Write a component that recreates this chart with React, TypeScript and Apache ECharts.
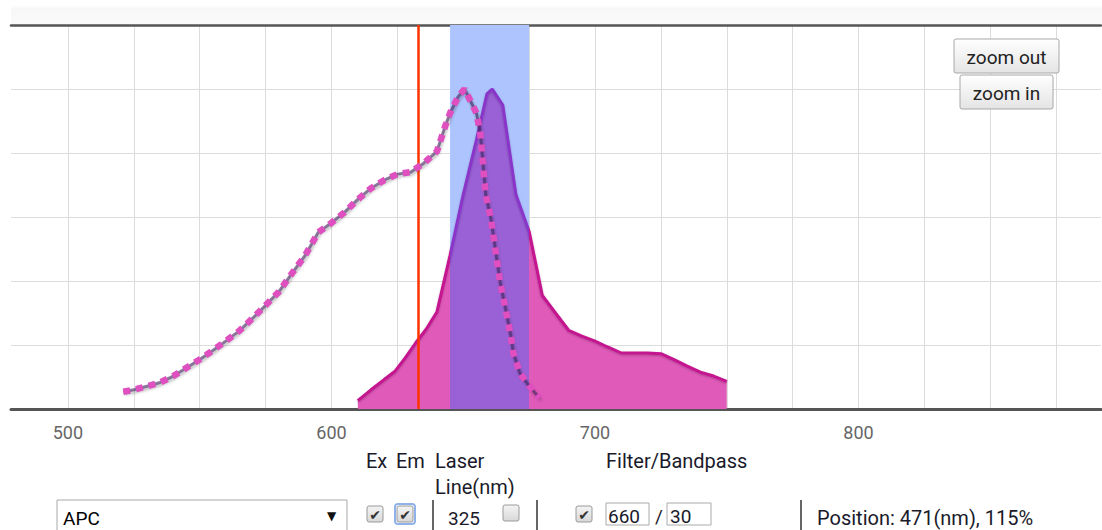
import React, { useEffect, useRef } from "react";
import * as echarts from "echarts";

// ---- data (nm, relative %) ----
const excitation: [number, number][] = [
  [521, 5.4], [525, 6.0], [530, 7.1], [535, 8.3], [540, 10.3], [545, 12.9],
  [550, 15.5], [555, 18.3], [560, 21.3], [565, 24.4], [570, 28.3], [575, 32.4],
  [580, 36.6], [585, 42.4], [590, 48.0], [595, 55.2], [600, 58.2], [605, 61.5],
  [610, 65.5], [615, 69.0], [620, 71.5], [625, 73.4], [630, 74.0], [635, 76.8],
  [640, 80.5], [643, 88.0], [645, 92.5], [648, 97.5], [650.5, 100], [655, 92.5],
  [656.5, 86.0], [658.5, 67.0], [660.5, 59.5], [662.5, 48.0], [664, 39.5],
  [666, 31.5], [668, 23.0], [669, 17.5], [671.5, 11.2], [675, 7.2], [679, 3.4],
];

const emission: [number, number][] = [
  [610, 2.6], [615, 6.0], [620, 9.2], [624, 11.7], [628, 16.0], [632, 20.7],
  [636, 25.0], [640, 30.3], [645, 48.0], [650, 67.0], [655, 84.0], [659, 98.5],
  [661, 100], [665, 95.0], [670, 67.0], [675, 55.5], [680, 35.5], [685, 30.0],
  [690, 24.6], [695, 22.8], [700, 21.2], [705, 19.3], [710, 17.5], [715, 17.5],
  [720, 17.5], [725, 17.3], [730, 15.4], [735, 13.4], [740, 11.5], [745, 10.3],
  [750, 8.6],
];

const laserLine = 633;
const filterCenter = 660;
const filterWidth = 30;

const xTickLabels = [500, 600, 700, 800];
const xGridTicks = [500, 525, 550, 575, 600, 625, 650, 675, 700, 725, 750, 775, 800, 825, 850, 875];
const xMin = 478.4;
const xMax = 892;
const yMin = 0;
const yMax = 120;
const yStep = 20;

const FONT = "Roboto, 'Liberation Sans', Arial, sans-serif";

const pink = "#e05ab9";
const purple = "#9a60d6";
const pinkStroke = "#c4128f";
const purpleStroke = "#8a35c9";

function txt(text: string, x: number, y: number, extra: any = {}) {
  return {
    type: "text",
    x,
    y,
    silent: true,
    z: 100,
    style: {
      text,
      fill: "#1a1a2a",
      fontSize: 20,
      fontFamily: FONT,
      verticalAlign: "middle",
      align: "left",
      ...extra,
    },
  };
}

function checkbox(x: number, y: number, checked: boolean, focus = false) {
  const items: any[] = [];
  if (focus) {
    items.push({
      type: "rect",
      shape: { x: x - 2, y: y - 2, width: 20, height: 20, r: 3 },
      style: { fill: "none", stroke: "#8fb2ea", lineWidth: 2 },
      z: 100,
      silent: true,
    });
  }
  items.push({
    type: "rect",
    shape: { x, y, width: 16, height: 16, r: 2 },
    style: {
      fill: new echarts.graphic.LinearGradient(0, 0, 0, 1, [
        { offset: 0, color: "#f4f4f4" },
        { offset: 1, color: "#d8d8d8" },
      ]),
      stroke: "#9a9a9a",
      lineWidth: 1,
    },
    z: 100,
    silent: true,
  });
  if (checked) {
    items.push({
      type: "text",
      x: x + 8,
      y: y + 8.5,
      z: 101,
      silent: true,
      style: {
        text: "✔",
        fill: "#333",
        fontSize: 14,
        fontFamily: "'DejaVu Sans', sans-serif",
        align: "center",
        verticalAlign: "middle",
      },
    });
  }
  return items;
}

function button(label: string, x: number, y: number, w: number, h: number) {
  return [
    {
      type: "rect",
      shape: { x, y, width: w, height: h, r: 2 },
      style: {
        fill: new echarts.graphic.LinearGradient(0, 0, 0, 1, [
          { offset: 0, color: "#ffffff" },
          { offset: 1, color: "#e4e4e4" },
        ]),
        stroke: "#a8a8a8",
        lineWidth: 1,
      },
      z: 100,
      silent: true,
    },
    {
      type: "text",
      x: x + w / 2,
      y: y + h / 2 + 1,
      z: 101,
      silent: true,
      style: {
        text: label,
        fill: "#222",
        fontSize: 19,
        fontFamily: FONT,
        align: "center",
        verticalAlign: "middle",
      },
    },
  ];
}

export default function App() {
  const ref = useRef<HTMLDivElement>(null);

  useEffect(() => {
    if (!ref.current) return;
    const chart = echarts.init(ref.current, undefined, { renderer: "svg" });

    const bandStart = filterCenter - filterWidth / 2;
    const bandEnd = filterCenter + filterWidth / 2;

    const graphic: any[] = [
      {
        type: "rect",
        shape: { x: 11, y: 5, width: 1091, height: 19 },
        style: {
          fill: new echarts.graphic.LinearGradient(0, 0, 0, 1, [
            { offset: 0, color: "#ffffff" },
            { offset: 0.2, color: "#f7f7f7" },
            { offset: 1, color: "#fafafa" },
          ]),
        },
        z: -1,
        silent: true,
      },
      ...button("zoom out", 954, 39, 105, 34),
      ...button("zoom in", 960, 75, 93, 34),
      txt("Ex", 366, 461),
      txt("Em", 396, 461),
      txt("Laser", 435, 461),
      txt("Line(nm)", 435, 487),
      txt("Filter/Bandpass", 606, 461),
      {
        type: "rect",
        shape: { x: 57, y: 500, width: 290, height: 40 },
        style: { fill: "#fff", stroke: "#a9a9a9", lineWidth: 1 },
        z: 100,
        silent: true,
      },
      txt("APC", 63, 518, { fill: "#000", fontSize: 19 }),
      txt("▼", 327, 516, { fill: "#111", fontSize: 12, fontFamily: "'DejaVu Sans', sans-serif" }),
      ...checkbox(367, 506, true),
      ...checkbox(397, 506, true, true),
      { type: "line", shape: { x1: 433, y1: 500, x2: 433, y2: 530 }, style: { stroke: "#333", lineWidth: 1.5 }, z: 100, silent: true },
      txt("325", 448, 518, { fontSize: 19 }),
      ...checkbox(503, 505, false),
      { type: "line", shape: { x1: 537, y1: 500, x2: 537, y2: 530 }, style: { stroke: "#333", lineWidth: 1.5 }, z: 100, silent: true },
      ...checkbox(576, 506, true),
      {
        type: "rect",
        shape: { x: 606, y: 503, width: 43, height: 22 },
        style: { fill: "#fff", stroke: "#aaa", lineWidth: 1 },
        z: 100,
        silent: true,
      },
      txt("660", 608, 516, { fontSize: 19 }),
      txt("/", 655, 516, { fontSize: 19 }),
      {
        type: "rect",
        shape: { x: 667, y: 503, width: 44, height: 22 },
        style: { fill: "#fff", stroke: "#aaa", lineWidth: 1 },
        z: 100,
        silent: true,
      },
      txt("30", 670, 516, { fontSize: 19 }),
      { type: "line", shape: { x1: 801, y1: 500, x2: 801, y2: 530 }, style: { stroke: "#333", lineWidth: 1.5 }, z: 100, silent: true },
      txt("Position: 471(nm), 115%", 817, 518),
    ];

    chart.setOption({
      animation: false,
      backgroundColor: "#ffffff",
      grid: { left: 11, right: 1, top: 25, bottom: 121, containLabel: false },
      xAxis: [
        {
          type: "value",
          position: "bottom",
          min: xMin,
          max: xMax,
          axisLine: { show: true, onZero: false, lineStyle: { color: "#555", width: 3 } },
          axisTick: { show: false, customValues: xGridTicks },
          axisLabel: {
            customValues: xTickLabels,
            color: "#666",
            fontSize: 18,
            fontFamily: FONT,
            margin: 14,
          },
          splitLine: { show: true, lineStyle: { color: "#dcdcdc", width: 1 } },
        },
        {
          type: "value",
          position: "top",
          min: xMin,
          max: xMax,
          axisLine: { show: true, onZero: false, lineStyle: { color: "#555", width: 2.5 } },
          axisTick: { show: false },
          axisLabel: { show: false },
          splitLine: { show: false },
        },
      ],
      yAxis: {
        type: "value",
        min: yMin,
        max: yMax,
        interval: yStep,
        axisLine: { show: false },
        axisTick: { show: false },
        axisLabel: { show: false },
        splitLine: { show: true, lineStyle: { color: "#dcdcdc", width: 1 } },
      },
      visualMap: [
        {
          type: "piecewise",
          show: false,
          seriesIndex: 1,
          dimension: 0,
          pieces: [
            { lt: bandStart, color: pink },
            { gte: bandStart, lte: bandEnd, color: purple },
            { gt: bandEnd, color: pink },
          ],
        },
        {
          type: "piecewise",
          show: false,
          seriesIndex: 2,
          dimension: 0,
          pieces: [
            { lt: bandStart, color: pinkStroke },
            { gte: bandStart, lte: bandEnd, color: purpleStroke },
            { gt: bandEnd, color: pinkStroke },
          ],
        },
      ],
      series: [
        {
          name: "filter",
          type: "line",
          data: [],
          z: 1,
          silent: true,
          markArea: {
            silent: true,
            z: 1,
            itemStyle: { color: "#adc4fe", opacity: 1 },
            label: { show: false },
            data: [[{ xAxis: bandStart }, { xAxis: bandEnd }]],
          },
        },
        {
          name: "emissionFill",
          type: "line",
          data: emission,
          z: 2,
          silent: true,
          showSymbol: false,
          symbol: "none",
          lineStyle: { width: 0 },
          areaStyle: { opacity: 1 },
        },
        {
          name: "emission",
          type: "line",
          data: emission,
          z: 3,
          silent: true,
          showSymbol: false,
          symbol: "none",
          lineStyle: {
            width: 3,
            shadowColor: "rgba(0,0,0,0.25)",
            shadowBlur: 2,
            shadowOffsetY: 1,
          },
        },
        {
          name: "laser",
          type: "line",
          data: [],
          z: 4,
          silent: true,
          markLine: {
            silent: true,
            z: 4,
            symbol: ["none", "none"],
            label: { show: false },
            lineStyle: { color: "#ff3300", width: 2.5, type: "solid" },
            data: [{ xAxis: laserLine }],
          },
        },
        {
          name: "excitationBase",
          type: "line",
          data: excitation,
          z: 5,
          silent: true,
          showSymbol: false,
          symbol: "none",
          lineStyle: {
            color: "rgba(70,40,95,0.6)",
            width: 3,
            shadowColor: "rgba(0,0,0,0.45)",
            shadowBlur: 3,
            shadowOffsetX: 1,
            shadowOffsetY: 2,
          },
        },
        {
          name: "excitation",
          type: "line",
          data: excitation,
          z: 6,
          silent: true,
          showSymbol: false,
          symbol: "none",
          lineStyle: {
            color: "#df4fc0",
            width: 6.5,
            type: [7, 6],
            cap: "butt",
          },
        },
      ],
      graphic,
    });

    return () => chart.dispose();
  }, []);

  return (
    <div
      ref={ref}
      style={{ position: "fixed", left: 0, top: 0, width: 1102, height: 530, background: "#fff" }}
    />
  );
}
